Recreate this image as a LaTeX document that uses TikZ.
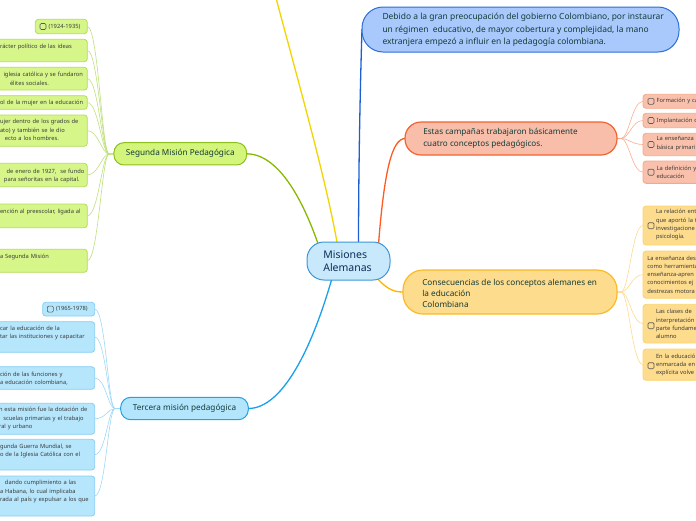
\documentclass[tikz,border=0pt]{standalone}
\usepackage{fontspec}
\setmainfont{Noto Sans}
\pgfdeclarelayer{bg}
\pgfsetlayers{bg,main}
\definecolor{txtdark}{HTML}{133B36}
\definecolor{txtnavy}{HTML}{0D2D55}
\definecolor{leafdark}{HTML}{3A3A3A}
\definecolor{cbgray}{HTML}{5A5A5A}
\definecolor{gfill}{HTML}{D4F57C}\definecolor{gdraw}{HTML}{8DBF1E}
\definecolor{glfill}{HTML}{D6F68A}\definecolor{gldraw}{HTML}{B4DB5E}
\definecolor{gconn}{HTML}{88B800}\definecolor{glconn}{HTML}{BFE07A}
\definecolor{bfill}{HTML}{B3E5FC}\definecolor{bdraw}{HTML}{1FA3E8}
\definecolor{blfill}{HTML}{B6E6FC}\definecolor{bldraw}{HTML}{86CFF4}
\definecolor{bconn}{HTML}{18A0EC}\definecolor{blconn}{HTML}{9ED8F6}
\definecolor{ofill}{HTML}{F9BEA9}\definecolor{odraw}{HTML}{F26331}
\definecolor{olfill}{HTML}{F9C1AB}\definecolor{oldraw}{HTML}{F6A88B}
\definecolor{oconn}{HTML}{FF5A1F}\definecolor{olconn}{HTML}{F9AE92}
\definecolor{yfill}{HTML}{FEDC8E}\definecolor{ydraw}{HTML}{FBBA25}
\definecolor{ylfill}{HTML}{FEDC8E}\definecolor{yldraw}{HTML}{FCD46E}
\definecolor{yconn}{HTML}{FFB300}\definecolor{ylconn}{HTML}{FDDA8E}
\definecolor{tfill}{HTML}{A9C9FD}\definecolor{tdraw}{HTML}{2B6ED6}
\definecolor{tconn}{HTML}{1C5FD2}
\definecolor{cfill}{HTML}{C7E9FB}\definecolor{cdraw}{HTML}{3C97D8}
\definecolor{yline}{HTML}{F2D500}
\begin{document}
\begin{tikzpicture}[x=1pt,y=-1pt,
  every node/.style={inner sep=0pt,outer sep=0pt},
  sz/.style n args={2}{minimum width=#1pt,minimum height=#2pt},
  mtext/.style={text=txtdark,font=\fontsize{8.45}{12.8}\selectfont,align=left,anchor=west},
  ltext/.style={text=leafdark,font=\fontsize{5.75}{8.3}\selectfont,align=left,anchor=west,text width=#1pt},
  ltext/.default=110,
  cbox/.style={draw=cbgray,line width=0.6pt,rounded corners=1.2pt,minimum size=6pt},
  gleaf/.style={draw=gldraw,fill=glfill,line width=0.8pt,rounded corners=3pt},
  bleaf/.style={draw=bldraw,fill=blfill,line width=0.8pt,rounded corners=3pt},
  oleaf/.style={draw=oldraw,fill=olfill,line width=0.8pt,rounded corners=3pt},
  yleaf/.style={draw=yldraw,fill=ylfill,line width=0.8pt,rounded corners=3pt},
  mainconn/.style={line width=1.3pt},
  leafconn/.style={line width=0.6pt}]
\useasboundingbox (0,0) rectangle (696,520);
\clip (0,0) rectangle (696,520);

% ---------- main nodes ----------
\node[draw=cdraw,fill=cfill,line width=1pt,rounded corners=17pt,sz={83}{38}] (c) at (348.5,261) {};
\node[text=txtnavy,font=\fontsize{10.5}{13.7}\selectfont,align=left,anchor=west] (ct) at (323.3,261.2) {Misiones\\Alemanas};

\node[draw=tdraw,fill=tfill,line width=1pt,rounded corners=21pt,sz={317}{45}] (t) at (520.5,29.5) {};
\node[mtext] (tt) at (382.5,29.8) {Debido a la gran preocupación del gobierno Colombiano, por instaurar\\un régimen\ \ educativo, de mayor cobertura y complejidad, la mano\\extranjera empezó a influir en la pedagogía colombiana.};

\node[draw=odraw,fill=ofill,line width=1.2pt,rounded corners=16pt,sz={212}{33}] (o) at (511,138.5) {};
\node[mtext,font=\fontsize{8.15}{11.7}\selectfont] (ot) at (423.3,138.5) {Estas campañas trabajaron básicamente\\cuatro conceptos pedagógicos.};

\node[draw=ydraw,fill=yfill,line width=1.2pt,rounded corners=20pt,sz={214}{44}] (y) at (510,292) {};
\node[mtext,font=\fontsize{8.2}{11.2}\selectfont] (yt) at (422.3,293.2) {Consecuencias de los conceptos alemanes en\\la educación\\Colombiana};

\node[draw=gdraw,fill=gfill,line width=1pt,rounded corners=10pt,sz={132.7}{22.3}] (g) at (180.3,153.8) {};
\node[text=txtdark,font=\fontsize{8.2}{10}\selectfont] (gt) at (180.3,153.8) {Segunda Misión Pedagógica};

\node[draw=bdraw,fill=bfill,line width=1pt,rounded corners=10pt,sz={127.6}{22.4}] (b) at (184.5,408.5) {};
\node[text=txtdark,font=\fontsize{8.2}{10}\selectfont] (bt) at (184.5,408.5) {Tercera misión pedagógica};

% ---------- green leaves ----------
\node[gleaf,sz={52}{14.4}] (g1) at (61.3,26.5) {};
\node[cbox] (g1c) at (43,26.5) {};
\node[ltext=40] (g1t) at (48.7,26.5) {(1924-1935)};
\node[gleaf,sz={107.3}{22.4}] (g2) at (33.65,50.5) {};
\node[ltext] (g2t) at (0,46.7) {rácter político de las ideas};
\node[gleaf,sz={107.3}{22.7}] (g3) at (33.65,78.65) {};
\node[ltext] (g3t) at (3.5,78.8) {iglesia católica y se fundaron\\\hspace*{6.5pt}élites sociales.};
\node[gleaf,sz={107.3}{13.6}] (g4) at (33.65,102.5) {};
\node[ltext] (g4t) at (0,102.7) {ol de la mujer en la educación};
\node[gleaf,sz={107.3}{31.3}] (g5) at (33.65,130.65) {};
\node[ltext] (g5t) at (0,130.1) {ujer dentro de los grados de\\ato) y también se le dio\\\hspace*{5pt}ecto a los hombres.};
\node[gleaf,sz={107.3}{23.4}] (g6) at (33.65,175) {};
\node[ltext] (g6t) at (4,175.8) {\hspace*{2.7pt}de enero de 1927,\ \ se fundo\\para señoritas en la capital.};
\node[gleaf,sz={107.3}{23.7}] (g7) at (33.65,215.85) {};
\node[ltext] (g7t) at (0,212) {ención al preescolar, ligada al};
\node[gleaf,sz={107.3}{23}] (g8) at (33.65,260.8) {};
\node[ltext] (g8t) at (0,257) {a Segunda Misión};

% ---------- cyan leaves ----------
\node[bleaf,sz={52}{13.7}] (b1) at (68.7,309.15) {};
\node[cbox] (b1c) at (50.3,309.15) {};
\node[ltext=40] (b1t) at (56,309.15) {(1965-1978)};
\node[bleaf,sz={114.7}{30.6}] (b2) at (37.35,337) {};
\node[ltext] (b2t) at (0,333.3) {car la educación de la\\tar las instituciones y capacitar};
\node[bleaf,sz={114.7}{22.6}] (b3) at (37.35,378) {};
\node[ltext] (b3t) at (0,378.7) {ción de las funciones y\\a educación colombiana,};
\node[bleaf,sz={114.7}{31}] (b4) at (37.35,418.8) {};
\node[ltext] (b4t) at (-1,418.7) {n esta misión fue la dotación de\\\hspace*{4.3pt}scuelas primarias y el trabajo\\ral y urbano};
\node[bleaf,sz={114.7}{30.7}] (b5) at (37.35,454.65) {};
\node[ltext] (b5t) at (0,450.7) {gunda Guerra Mundial, se\\o de la Iglesia Católica con el};
\node[bleaf,sz={114.7}{40}] (b6) at (37.35,496) {};
\node[ltext] (b6t) at (0,491.7) {\hspace*{5pt}dando cumplimiento a las\\a Habana, lo cual implicaba\\rada al país y expulsar a los que};

% ---------- orange leaves ----------
\node[oleaf,sz={97}{14}] (o1) at (691.5,101.3) {};
\node[cbox] (o1c) at (651,101.3) {};
\node[ltext=80] (o1t) at (656.7,101.3) {Formación y ca};
\node[oleaf,sz={97}{14.4}] (o2) at (691.5,120.5) {};
\node[cbox] (o2c) at (651,120.5) {};
\node[ltext=80] (o2t) at (656.7,120.5) {Implantación d};
\node[oleaf,sz={97}{22.4}] (o3) at (691.5,144.5) {};
\node[cbox] (o3c) at (651,144.5) {};
\node[ltext=80] (o3t) at (656.7,143.7) {La enseñanza\\básica primari};
\node[oleaf,sz={97}{22.3}] (o4) at (691.5,172.2) {};
\node[cbox] (o4c) at (651,172.2) {};
\node[ltext=80] (o4t) at (656.7,172.2) {La definición y\\educación};

% ---------- yellow leaves ----------
\node[yleaf,sz={97}{39}] (y1) at (691.5,225.5) {};
\node[cbox] (y1c) at (651,225.7) {};
\node[ltext=80] (y1t) at (656,224.8) {La relación ent\\que aportó la t\\investigacione\\psicología.};
\node[yleaf,sz={97}{47.3}] (y2) at (691.5,274.65) {};
\node[ltext=80] (y2t) at (647.3,274.5) {La enseñanza des\\como herramienta\\enseñanza-apren\\conocimientos ej\\destrezas motora};
\node[yleaf,sz={97}{38.7}] (y3) at (691.5,323.65) {};
\node[cbox] (y3c) at (651,325.7) {};
\node[ltext=80] (y3t) at (656,324.1) {Las clases de\\interpretación\\parte fundame\\alumno};
\node[yleaf,sz={97}{31.3}] (y4) at (691.5,364.65) {};
\node[cbox] (y4c) at (651,365.7) {};
\node[ltext=80] (y4t) at (656,365.1) {En la educació\\enmarcada en\\explícita volve};

% ---------- connector coordinates ----------
\coordinate (yoff) at (270,-25);
\coordinate (gf) at (109,154);
\coordinate (bf) at (115,408.5);
\coordinate (of) at (621,138.5);
\coordinate (yf) at (621,292);

\begin{pgfonlayer}{bg}
% main connectors
\draw[mainconn,draw=yline] ([shift={(-10,-10)}]c.center) .. controls (327,180) and (292,60) .. (yoff);
\draw[mainconn,draw=tconn] ([shift={(10,-10)}]c.center) .. controls (358.5,150) and (361,60) .. (t.west) -- (t.center);
\draw[mainconn,draw=gconn] (g.center) -- (g.east) .. controls (282,154) and (307,210) .. ([shift={(-28,-10)}]c.center);
\draw[mainconn,draw=oconn] ([shift={(29.5,-10)}]c.center) .. controls (384,170) and (392,139) .. (o.west) -- (o.center);
\draw[mainconn,draw=yconn] ([shift={(24,12)}]c.center) .. controls (385,288) and (392,292) .. (y.west) -- (y.center);
\draw[mainconn,draw=bconn] ([shift={(-15,12)}]c.center) .. controls (312,350) and (282,408.5) .. (b.east) -- (b.center);
% green leaf connectors
\foreach \n in {g1,g2,g3,g4,g5,g6,g7,g8}
  \draw[leafconn,draw=glconn] (\n.east) .. controls +(11,0) and +(-7,0) .. (gf) -- (g.west);
% cyan leaf connectors
\foreach \n in {b1,b2,b3,b4,b5,b6}
  \draw[leafconn,draw=blconn] (\n.east) .. controls +(11,0) and +(-7,0) .. (bf) -- (b.west);
% orange leaf connectors
\foreach \n in {o1,o2,o3,o4}
  \draw[leafconn,draw=olconn] (o.east) -- (of) .. controls +(8,0) and +(-11,0) .. (\n.west);
% yellow leaf connectors
\foreach \n in {y1,y2,y3,y4}
  \draw[leafconn,draw=ylconn] (y.east) -- (yf) .. controls +(8,0) and +(-11,0) .. (\n.west);
\end{pgfonlayer}
\end{tikzpicture}
\end{document}
